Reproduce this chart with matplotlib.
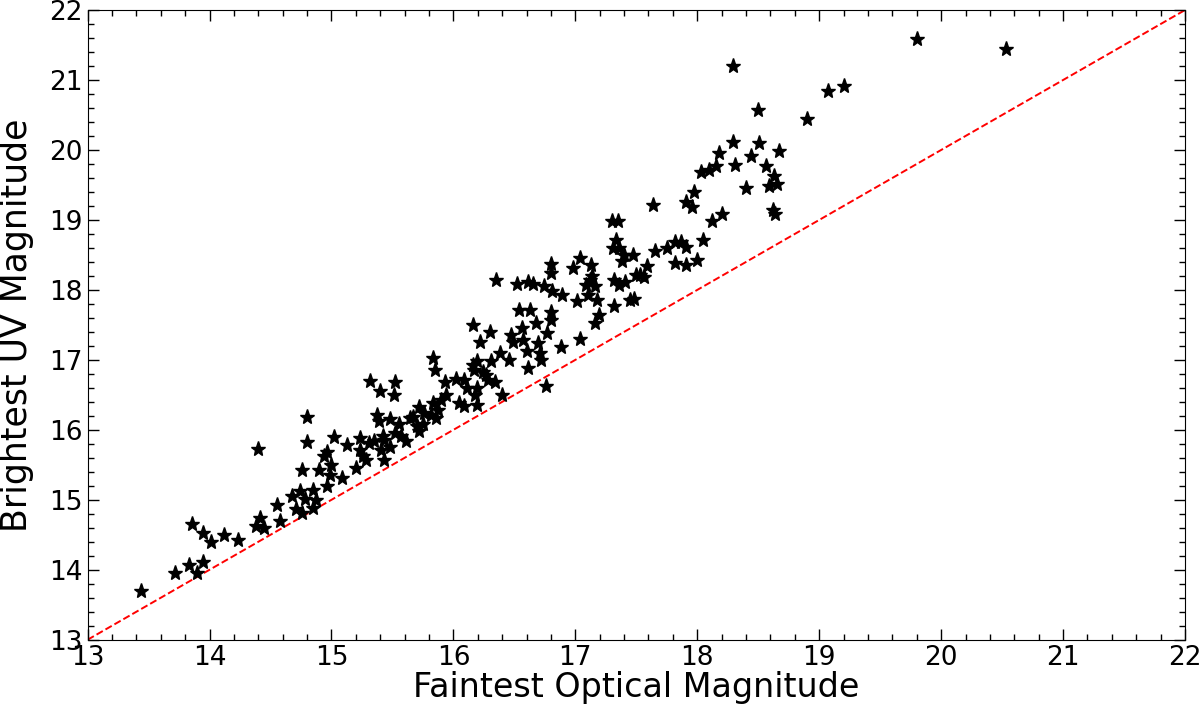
import matplotlib
matplotlib.use("Agg")
import matplotlib.pyplot as plt
from matplotlib.ticker import MultipleLocator, AutoMinorLocator

# faintest optical magnitude (x) / brightest UV magnitude (y)
faint_opt = [
    13.44, 13.72, 13.83, 13.90, 13.95, 13.86, 13.95, 14.01, 14.12, 14.23,
    14.40, 14.41, 14.38, 14.45, 14.55, 14.58, 14.68, 14.74, 14.71, 14.78,
    14.76, 14.85, 14.87, 14.85, 14.76, 14.80, 14.80, 14.90, 14.96, 14.99,
    14.94, 14.96, 15.00, 15.02, 15.09, 15.13, 15.20, 15.23, 15.23, 15.26,
    15.28, 15.31, 15.35, 15.32, 15.40, 15.37, 15.39, 15.43, 15.41, 15.43,
    15.52, 15.51, 15.42, 15.48, 15.48, 15.55, 15.52, 15.57, 15.61, 15.64,
    15.67, 15.72, 15.70, 15.72, 15.75, 15.76, 15.82, 15.83, 15.85, 15.83,
    15.87, 15.86, 15.90, 15.94, 15.93, 16.02, 16.05, 16.09, 16.09, 16.11,
    16.16, 16.16, 16.17, 16.19, 16.19, 16.18, 16.19, 16.22, 16.24, 16.27,
    16.28, 16.30, 16.31, 16.34, 16.38, 16.40, 16.47, 16.49, 16.46, 16.54,
    16.63, 16.56, 16.57, 16.60, 16.61, 16.68, 16.69, 16.71, 16.72, 16.76,
    16.77, 16.80, 16.80, 16.88, 16.35, 16.52, 16.61, 16.65, 16.74, 16.80,
    16.80, 16.81, 16.89, 16.98, 17.01, 17.04, 17.13, 17.12, 17.14, 17.09,
    17.16, 17.10, 17.18, 17.19, 17.16, 17.04, 17.64, 17.91, 17.96, 18.12,
    18.20, 17.30, 17.35, 17.33, 17.31, 17.36, 17.40, 17.38, 17.47, 17.65,
    17.75, 17.82, 17.87, 17.91, 18.05, 18.00, 17.82, 17.91, 17.59, 17.56,
    17.50, 17.53, 17.32, 17.36, 17.41, 17.45, 17.48, 17.32, 18.90, 18.29,
    18.51, 18.67, 18.18, 18.44, 18.31, 18.15, 18.10, 18.03, 18.56, 18.63,
    18.65, 18.59, 18.40, 17.97, 18.62, 18.64, 18.29, 18.50, 19.07, 19.20,
    19.80, 20.53,
]
bright_uv = [
    13.70, 13.95, 14.07, 13.96, 14.11, 14.66, 14.52, 14.40, 14.49, 14.42,
    15.73, 14.74, 14.62, 14.59, 14.92, 14.70, 15.05, 15.12, 14.87, 15.01,
    14.81, 15.14, 15.00, 14.88, 15.43, 16.18, 15.83, 15.42, 15.20, 15.35,
    15.62, 15.68, 15.50, 15.90, 15.31, 15.79, 15.45, 15.88, 15.71, 15.62,
    15.57, 15.81, 15.84, 16.70, 16.55, 16.21, 16.12, 15.86, 15.71, 15.57,
    16.69, 16.50, 15.91, 15.76, 16.16, 16.09, 15.95, 15.91, 15.84, 16.17,
    16.19, 16.33, 16.05, 15.98, 16.09, 16.24, 16.21, 17.02, 16.86, 16.38,
    16.29, 16.17, 16.43, 16.50, 16.69, 16.72, 16.38, 16.71, 16.34, 16.60,
    17.50, 16.93, 16.86, 16.98, 16.60, 16.50, 16.36, 17.26, 16.83, 16.79,
    16.71, 17.40, 16.98, 16.69, 17.10, 16.50, 17.36, 17.26, 17.00, 17.71,
    17.72, 17.45, 17.29, 17.12, 16.88, 17.52, 17.24, 17.10, 17.00, 16.63,
    17.38, 17.69, 17.57, 17.18, 18.14, 18.08, 18.11, 18.08, 18.06, 18.37,
    18.24, 17.98, 17.93, 18.31, 17.84, 18.45, 18.35, 18.14, 18.20, 18.07,
    18.05, 17.93, 17.86, 17.64, 17.53, 17.30, 19.21, 19.25, 19.18, 18.98,
    19.08, 18.98, 18.98, 18.71, 18.60, 18.60, 18.50, 18.42, 18.50, 18.56,
    18.60, 18.69, 18.69, 18.62, 18.71, 18.43, 18.38, 18.36, 18.34, 18.19,
    18.21, 18.21, 18.14, 18.07, 18.12, 17.86, 17.87, 17.77, 20.44, 20.11,
    20.10, 19.98, 19.96, 19.91, 19.78, 19.77, 19.71, 19.68, 19.77, 19.63,
    19.52, 19.48, 19.46, 19.40, 19.14, 19.08, 21.20, 20.57, 20.84, 20.91,
    21.59, 21.44,
]
lims = [13, 22]

fig, ax = plt.subplots(figsize=(12, 7.18), dpi=100)
fig.subplots_adjust(left=0.073, right=0.9875, top=0.986, bottom=0.109)

ax.plot(lims, lims, color='red', linestyle='--', linewidth=1.4, zorder=1)
ax.plot(faint_opt, bright_uv, linestyle='none', marker='*', color='black',
        markersize=11, zorder=2)

ax.set_xlim(lims)
ax.set_ylim(lims)
ax.xaxis.set_major_locator(MultipleLocator(1))
ax.yaxis.set_major_locator(MultipleLocator(1))
ax.xaxis.set_minor_locator(AutoMinorLocator(5))
ax.yaxis.set_minor_locator(AutoMinorLocator(5))
ax.tick_params(which='both', direction='in', top=True, right=True, labelsize=19)
ax.tick_params(which='major', length=8, width=1)
ax.tick_params(which='minor', length=4, width=1)

ax.set_xlabel('Faintest Optical Magnitude', fontsize=24, labelpad=0)
ax.set_ylabel('Brightest UV Magnitude', fontsize=25, labelpad=11)

fig.savefig('out.png', dpi=100)
